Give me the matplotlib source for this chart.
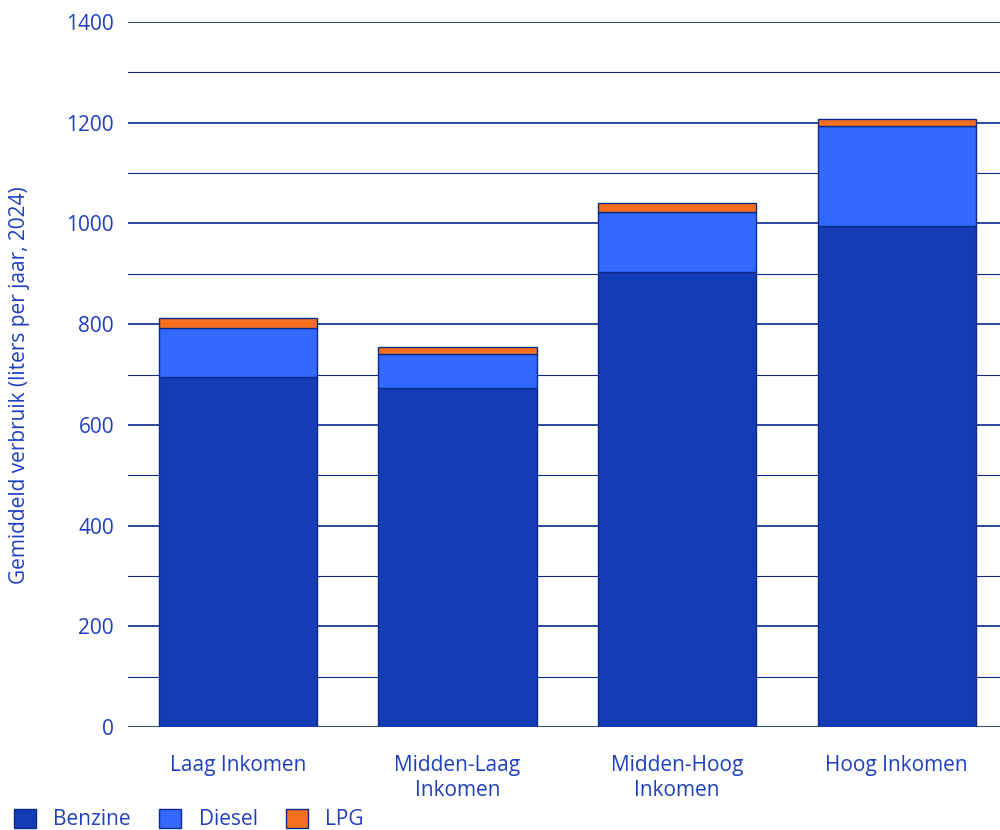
import matplotlib.pyplot as plt
import numpy as np

categories = ["Laag Inkomen", "Midden-Laag\nInkomen", "Midden-Hoog\nInkomen", "Hoog Inkomen"]
benzine = [695, 673, 903, 995]
diesel = [97, 68, 120, 198]
lpg = [20, 14, 17, 15]

TEXT = "#1f3fbf"
GRID = "#0b2a8a"
EDGE = "#0b2a8a"
colors = ["#143cb4", "#3369ff", "#f47020"]

plt.rcParams["font.family"] = ["Open Sans", "DejaVu Sans"]

fig = plt.figure(figsize=(10, 8.3), dpi=100)
ax = fig.add_axes([0.128, 0.124, 0.872, 0.8495])

x = np.arange(len(categories))
w = 0.72
b1 = ax.bar(x, benzine, w, color=colors[0], edgecolor=EDGE, linewidth=1, label="Benzine", zorder=3)
b2 = ax.bar(x, diesel, w, bottom=benzine, color=colors[1], edgecolor=EDGE, linewidth=1, label="Diesel", zorder=3)
bottom2 = np.array(benzine) + np.array(diesel)
b3 = ax.bar(x, lpg, w, bottom=bottom2, color=colors[2], edgecolor=EDGE, linewidth=1, label="LPG", zorder=3)

ax.set_xlim(-0.5, 3.47)
ax.set_ylim(0, 1400)
ax.set_yticks(np.arange(0, 1401, 200))
ax.set_yticks(np.arange(100, 1400, 200), minor=True)
ax.grid(axis="y", which="major", color=GRID, linewidth=1.2, zorder=0)
ax.grid(axis="y", which="minor", color=GRID, linewidth=0.8, zorder=0)
ax.tick_params(axis="y", which="both", length=0, colors=TEXT, labelsize=15, pad=10)
ax.tick_params(axis="x", length=0, colors=TEXT, labelsize=15, pad=20)
ax.set_xticks(x)
ax.set_xticklabels(categories, linespacing=1.25)
for s in ax.spines.values():
    s.set_visible(False)

ax.set_ylabel("Gemiddeld verbruik (liters per jaar, 2024)", color=TEXT, fontsize=15)
ax.yaxis.set_label_coords(-0.112, 0.485)

leg = fig.legend(handles=[b1, b2, b3], loc="lower left", bbox_to_anchor=(-0.005, -0.023), ncol=3,
                 frameon=False, fontsize=15, handlelength=1.05, handleheight=1.05,
                 columnspacing=1.35, handletextpad=0.85)
for t in leg.get_texts():
    t.set_color(TEXT)

fig.savefig("out.png", dpi=100)
